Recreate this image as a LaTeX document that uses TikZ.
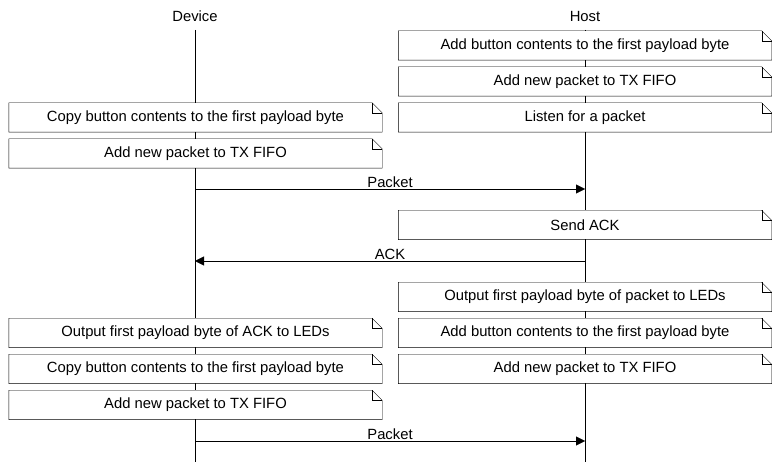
\documentclass[tikz,border=0pt]{standalone}
\usepackage{fontspec}
\setmainfont{Liberation Sans}
\usetikzlibrary{arrows.meta}
\begin{document}
\begin{tikzpicture}[x=1pt,y=-1pt,
		note/.style={fill=white, minimum width=373pt, minimum height=29pt, inner sep=0pt, font=\fontsize{14.8}{17}\selectfont},
		msg/.style={-{Triangle[length=9pt,width=9pt]}},
		every node/.style={font=\fontsize{14.8}{17}\selectfont}]
		\useasboundingbox (0,0) rectangle (780,462);
		% Lifelines
		\node (dev) at (195,16) {Device};
		\node (host) at (585,16) {Host};
		\coordinate (devEnd) at (195,462);
		\coordinate (hostEnd) at (585,462);
		\draw (195,30) -- (devEnd);
		\draw (585,30) -- (hostEnd);
		% Notes on the host side
		\node[note] (h1) at (585,45.5) {Add button contents to the first payload byte};
		\node[note] (h2) at (585,81.5) {Add new packet to TX FIFO};
		\node[note] (h3) at (585,117.5) {Listen for a packet};
		\node[note] (h4) at (585,225) {Send ACK};
		\node[note] (h5) at (585,297) {Output first payload byte of packet to LEDs};
		\node[note] (h6) at (585,333) {Add button contents to the first payload byte};
		\node[note] (h7) at (585,369) {Add new packet to TX FIFO};
		% Notes on the device side
		\node[note] (d1) at (195.5,117.5) {Copy button contents to the first payload byte};
		\node[note] (d2) at (195.5,153.5) {Add new packet to TX FIFO};
		\node[note] (d3) at (195.5,333) {Output first payload byte of ACK to LEDs};
		\node[note] (d4) at (195.5,369) {Copy button contents to the first payload byte};
		\node[note] (d5) at (195.5,405) {Add new packet to TX FIFO};
		% Folded corners
		\foreach \n in {h1,h2,h3,h4,h5,h6,h7,d1,d2,d3,d4,d5}{
			\draw (\n.north west) -- ([xshift=-10pt]\n.north east) -- ([yshift=-10pt]\n.north east) -- (\n.south east) -- (\n.south west) -- cycle;
			\draw ([xshift=-10pt]\n.north east) |- ([yshift=-10pt]\n.north east);
		}
		% Messages
		\coordinate (m1a) at (195,189); \coordinate (m1b) at (585,189);
		\coordinate (m2a) at (585,261); \coordinate (m2b) at (195,261);
		\coordinate (m3a) at (195,441); \coordinate (m3b) at (585,441);
		\draw[msg] (m1a) -- node[above=-2pt] {Packet} (m1b);
		\draw[msg] (m2a) -- node[above=-2pt] {ACK} (m2b);
		\draw[msg] (m3a) -- node[above=-2pt] {Packet} (m3b);
	\end{tikzpicture}
\end{document}
